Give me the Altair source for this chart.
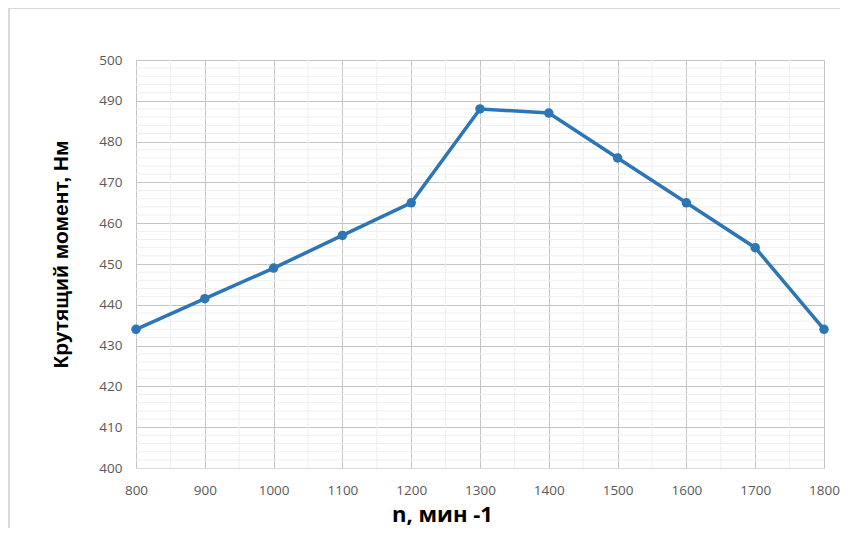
import altair as alt
import pandas as pd

rpm = [800, 900, 1000, 1100, 1200, 1300, 1400, 1500, 1600, 1700, 1800]
torque = [434, 441.5, 449, 457, 465, 488, 487, 476, 465, 454, 434]

x_major = list(range(800, 1801, 100))
y_major = list(range(400, 501, 10))
x_minor = [v for v in range(800, 1801, 50) if v % 100 != 0]
y_minor = [v for v in range(400, 501, 2) if v % 10 != 0]

df = pd.DataFrame({"n": rpm, "m": torque})

W, H = 688, 408
xs = alt.Scale(domain=[800, 1800], nice=False, zero=False)
ys = alt.Scale(domain=[400, 500], nice=False, zero=False)

x_axis = alt.Axis(
    values=x_major, format="d", title="n, мин -1", grid=True, gridColor="#c4c4c4",
    domain=True, domainColor="#d9d9d9", ticks=False, labelPadding=15,
    labelFlush=False, labelOverlap=False,
    labelFont="Open Sans", labelFontSize=13.5, labelColor="#595959",
    titleFont="Open Sans", titleFontSize=22, titleFontWeight="bold",
    titleColor="#000000", titleX=306, titleY=53, titleAlign="center",
    titleBaseline="alphabetic",
)
y_axis = alt.Axis(
    values=y_major, format="d", title="Крутящий момент, Нм", grid=True, gridColor="#c4c4c4",
    domain=False, ticks=False, labelPadding=14, labelFlush=False,
    labelFont="Open Sans", labelFontSize=13.5, labelColor="#595959",
    titleFont="Liberation Sans", titleFontSize=21, titleFontWeight="bold",
    titleColor="#000000", titleX=-69, titleY=194, titleAlign="center",
    titleBaseline="alphabetic", titleAngle=270,
)

minor_x = alt.Chart(pd.DataFrame({"n": x_minor})).mark_rule(
    color="#efefef", strokeWidth=1
).encode(x=alt.X("n:Q", scale=xs, axis=x_axis))
minor_y = alt.Chart(pd.DataFrame({"m": y_minor})).mark_rule(
    color="#efefef", strokeWidth=1
).encode(y=alt.Y("m:Q", scale=ys, axis=y_axis))

base = alt.Chart(df).encode(
    x=alt.X("n:Q", scale=xs, axis=x_axis),
    y=alt.Y("m:Q", scale=ys, axis=y_axis),
)

line = base.mark_line(color="#2e75b6", strokeWidth=3.5)
pts = base.mark_circle(color="#2e75b6", size=90, opacity=1)

border = alt.Chart(pd.DataFrame({"a": [0]})).mark_rule(color="#d9d9d9", strokeWidth=2).encode(
    x=alt.value(-127), y=alt.value(-52), y2=alt.value(H + 100)
)
border2 = alt.Chart(pd.DataFrame({"a": [0]})).mark_rule(color="#d9d9d9", strokeWidth=2).encode(
    x=alt.value(-127), x2=alt.value(W + 40), y=alt.value(-52)
)

chart = alt.layer(minor_x, minor_y, line, pts, border, border2).properties(
    width=W, height=H,
    autosize=alt.AutoSizeParams(type="none"),
    padding={"left": 128, "top": 52, "right": 16, "bottom": 60},
).configure_view(stroke=None)

chart.save("out.html", embed_options={"renderer": "svg", "actions": False})
